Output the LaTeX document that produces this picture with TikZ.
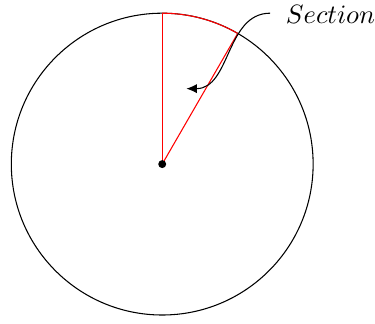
\documentclass[tikz,border=0pt]{standalone}
\usepackage{amsmath,amssymb}
\usepackage{tikz}
\usetikzlibrary{arrows.meta, positioning, calc}

\begin{document}
\begin{tikzpicture}[
				wheel/.style={draw=black},
				sector/.style={draw=red},
				annot/.style={inner sep=0pt},
				arrow/.style={-{Latex[length=4pt,width=3.5pt]}, black}
				]
				\useasboundingbox (-2.15,-2.11) rectangle (2.82,2.175);
				% --- Circle and centre ---
				\coordinate (O) at (0,0);
				\draw[wheel] (O) circle (2);
				\coordinate (top) at (90:2);
				\coordinate (edge) at (60:2);
				
				% --- Red section ---
				\draw[sector] (O) -- (top);
				\draw[sector] (O) -- (edge);
				\draw[sector] (edge) arc (60:90:2);
				\fill (O) circle (1.5pt);
				
				% --- Label with curved arrow ---
				\node[annot] (label) at (2.23,1.99) {$Section$};
				\coordinate (start) at (1.43,2.0);
				\coordinate (tip) at (0.32,1.0);
				\draw[arrow] (start) to[out=180, in=0] (tip);
			\end{tikzpicture}
\end{document}
